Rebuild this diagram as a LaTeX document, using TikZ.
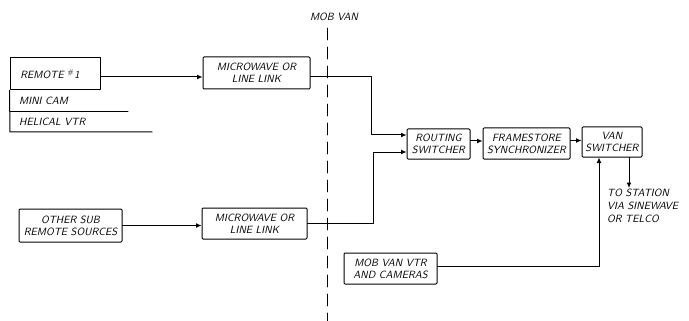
\documentclass[tikz,border=0pt]{standalone}
\usetikzlibrary{arrows.meta}
\tikzset{
  blk/.style={draw, line width=1pt, rounded corners=1pt, align=center,
    inner sep=1pt, font=\fontsize{10.5}{12}\selectfont\sffamily\itshape},
  lbl/.style={align=left, inner sep=1pt, font=\fontsize{10.5}{13}\selectfont\sffamily\itshape},
  wire/.style={line width=1pt},
  arr/.style={wire, -{Latex[length=5.5pt,width=5pt]}}
}
\begin{document}
\begin{tikzpicture}[x=1pt,y=-1pt,line cap=round,line join=round]
  \useasboundingbox (0,0) rectangle (689,321);
  % source stack
  \node[blk, minimum width=90pt, minimum height=32pt, rounded corners=0pt] (remote) at (55,74) {REMOTE $^{\#}$1\hspace*{10pt}};
  \node[lbl, anchor=west] (minicam) at (18,101) {MINI CAM};
  \node[lbl, anchor=west] (helical) at (18,122) {HELICAL VTR};
  \draw[wire] (remote.south west) -- (10,132) -- (152,132);
  \draw[wire] (10,112) -- (128,112);
  \node[blk, minimum width=103pt, minimum height=33pt] (othersub) at (70.5,225.5) {OTHER SUB\\REMOTE SOURCES};
  % links
  \node[blk, minimum width=107pt, minimum height=32pt] (mwa) at (256.5,73) {MICROWAVE OR\\LINE LINK};
  \node[blk, minimum width=105pt, minimum height=31pt] (mwb) at (254.5,223.5) {MICROWAVE OR\\LINE LINK};
  % van side
  \node[lbl] (mobvan) at (334,17) {MOB VAN};
  \coordinate (vtop) at (327,28);
  \coordinate (vbot) at (327,321);
  \draw[line width=0.8pt, dash pattern=on 12pt off 7pt] (vtop) -- (vbot);
  \node[blk, minimum width=63pt, minimum height=30pt] (routing) at (438.5,144) {ROUTING\\SWITCHER};
  \node[blk, minimum width=87pt, minimum height=31pt] (frame) at (526.5,143.5) {FRAMESTORE\\SYNCHRONIZER};
  \node[blk, minimum width=60pt, minimum height=30pt] (van) at (612,142) {VAN\\SWITCHER};
  \node[blk, minimum width=93pt, minimum height=31pt] (mobvtr) at (390.5,268.5) {MOB VAN VTR\\AND CAMERAS};
  \node[lbl, anchor=north west] (station) at (606,188) {TO STATION\\VIA SINEWAVE\\OR TELCO};
  \coordinate (ina) at ([yshift=9pt]routing.west);
  \coordinate (inb) at ([yshift=-8pt]routing.west);
  \coordinate (ja) at (371,0);
  \coordinate (jb) at (373,0);
  \coordinate (jc) at (599,0);
  \coordinate (jd) at (629,0);
  % connectors
  \draw[arr] ([yshift=-3pt]remote.east) -- ([yshift=-3pt]remote.east -| mwa.west);
  \draw[arr] (othersub.east) -- (othersub.east -| mwb.west);
  \draw[arr] ([yshift=-4pt]mwa.east) -| (ja |- ina) -- (ina);
  \draw[arr] (mwb.east) -| (jb |- inb) -- (inb);
  \draw[arr] ([yshift=3pt]routing.east) -- ([yshift=3pt]routing.east -| frame.west);
  \draw[arr] ([yshift=3pt]frame.east) -- ([yshift=3pt]frame.east -| van.west);
  \draw[arr] ([yshift=2pt]mobvtr.east) -| (jc |- van.south);
  \draw[arr] (jd |- van.south) -- (jd |- station.north);
\end{tikzpicture}
\end{document}
